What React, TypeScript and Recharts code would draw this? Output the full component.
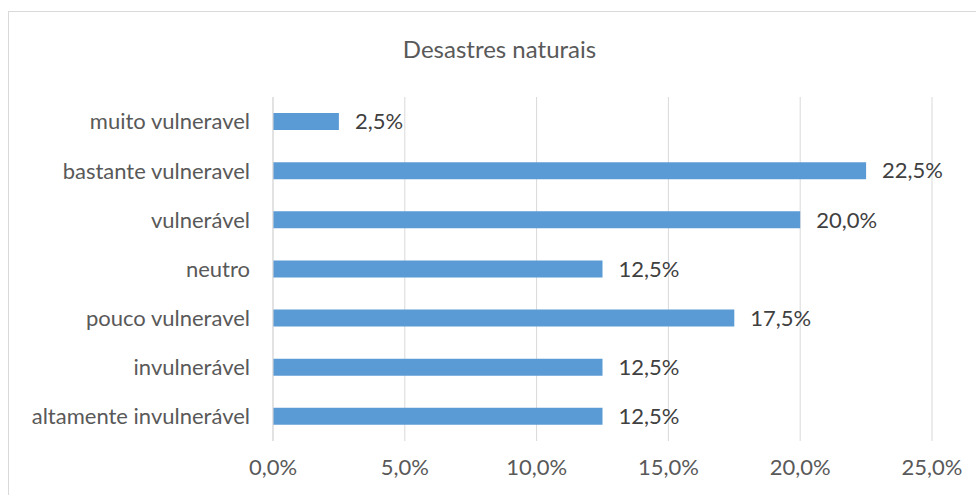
import { BarChart, Bar, XAxis, YAxis, CartesianGrid, LabelList } from "recharts";

const categories = [
  "muito vulneravel",
  "bastante vulneravel",
  "vulnerável",
  "neutro",
  "pouco vulneravel",
  "invulnerável",
  "altamente invulnerável",
];
const shares = [2.5, 22.5, 20.0, 12.5, 17.5, 12.5, 12.5];
const xTicks = [0, 5, 10, 15, 20, 25];

const data = categories.map((name, i) => ({ name, value: shares[i] }));

const FONT = "Lato, 'Noto Sans', sans-serif";
const pct = (v: number) => v.toFixed(1).replace(".", ",") + "%";

export default function App() {
  return (
    <div
      style={{
        position: "fixed",
        left: 0,
        top: 0,
        width: 976,
        height: 495,
        overflow: "hidden",
        background: "#fff",
        fontFamily: FONT,
      }}
    >
      {/* chart frame, runs off the right and bottom edge */}
      <div
        style={{
          position: "absolute",
          left: 8,
          top: 11,
          width: 1000,
          height: 500,
          border: "1px solid #d9d9d9",
        }}
      />
      <div
        style={{
          position: "absolute",
          left: 0,
          top: 34,
          width: 999,
          textAlign: "center",
          fontSize: 24,
          color: "#595959",
        }}
      >
        Desastres naturais
      </div>
      <div style={{ position: "absolute", left: 0, top: 0 }}>
        <BarChart
          width={976}
          height={495}
          data={data}
          layout="vertical"
          margin={{ top: 97, right: 44, bottom: 0, left: 0 }}
        >
          <CartesianGrid stroke="#d9d9d9" horizontal={false} />
          <XAxis
            type="number"
            domain={[0, 25]}
            ticks={xTicks}
            tickFormatter={pct}
            axisLine={false}
            tickLine={false}
            tickSize={0}
            tickMargin={18}
            height={54}
            tick={{ fill: "#595959", fontSize: 22, fontFamily: FONT }}
          />
          <YAxis
            type="category"
            dataKey="name"
            width={273}
            axisLine={{ stroke: "#d9d9d9" }}
            tickLine={false}
            tickSize={0}
            tickMargin={23}
            tick={{ fill: "#595959", fontSize: 22, fontFamily: FONT }}
          />
          <Bar dataKey="value" fill="#5b9bd5" barSize={17} isAnimationActive={false}>
            <LabelList
              dataKey="value"
              position="right"
              offset={16}
              formatter={(v: any) => pct(Number(v))}
              style={{ fill: "#404040", fontSize: 22, fontFamily: FONT }}
            />
          </Bar>
        </BarChart>
      </div>
    </div>
  );
}
